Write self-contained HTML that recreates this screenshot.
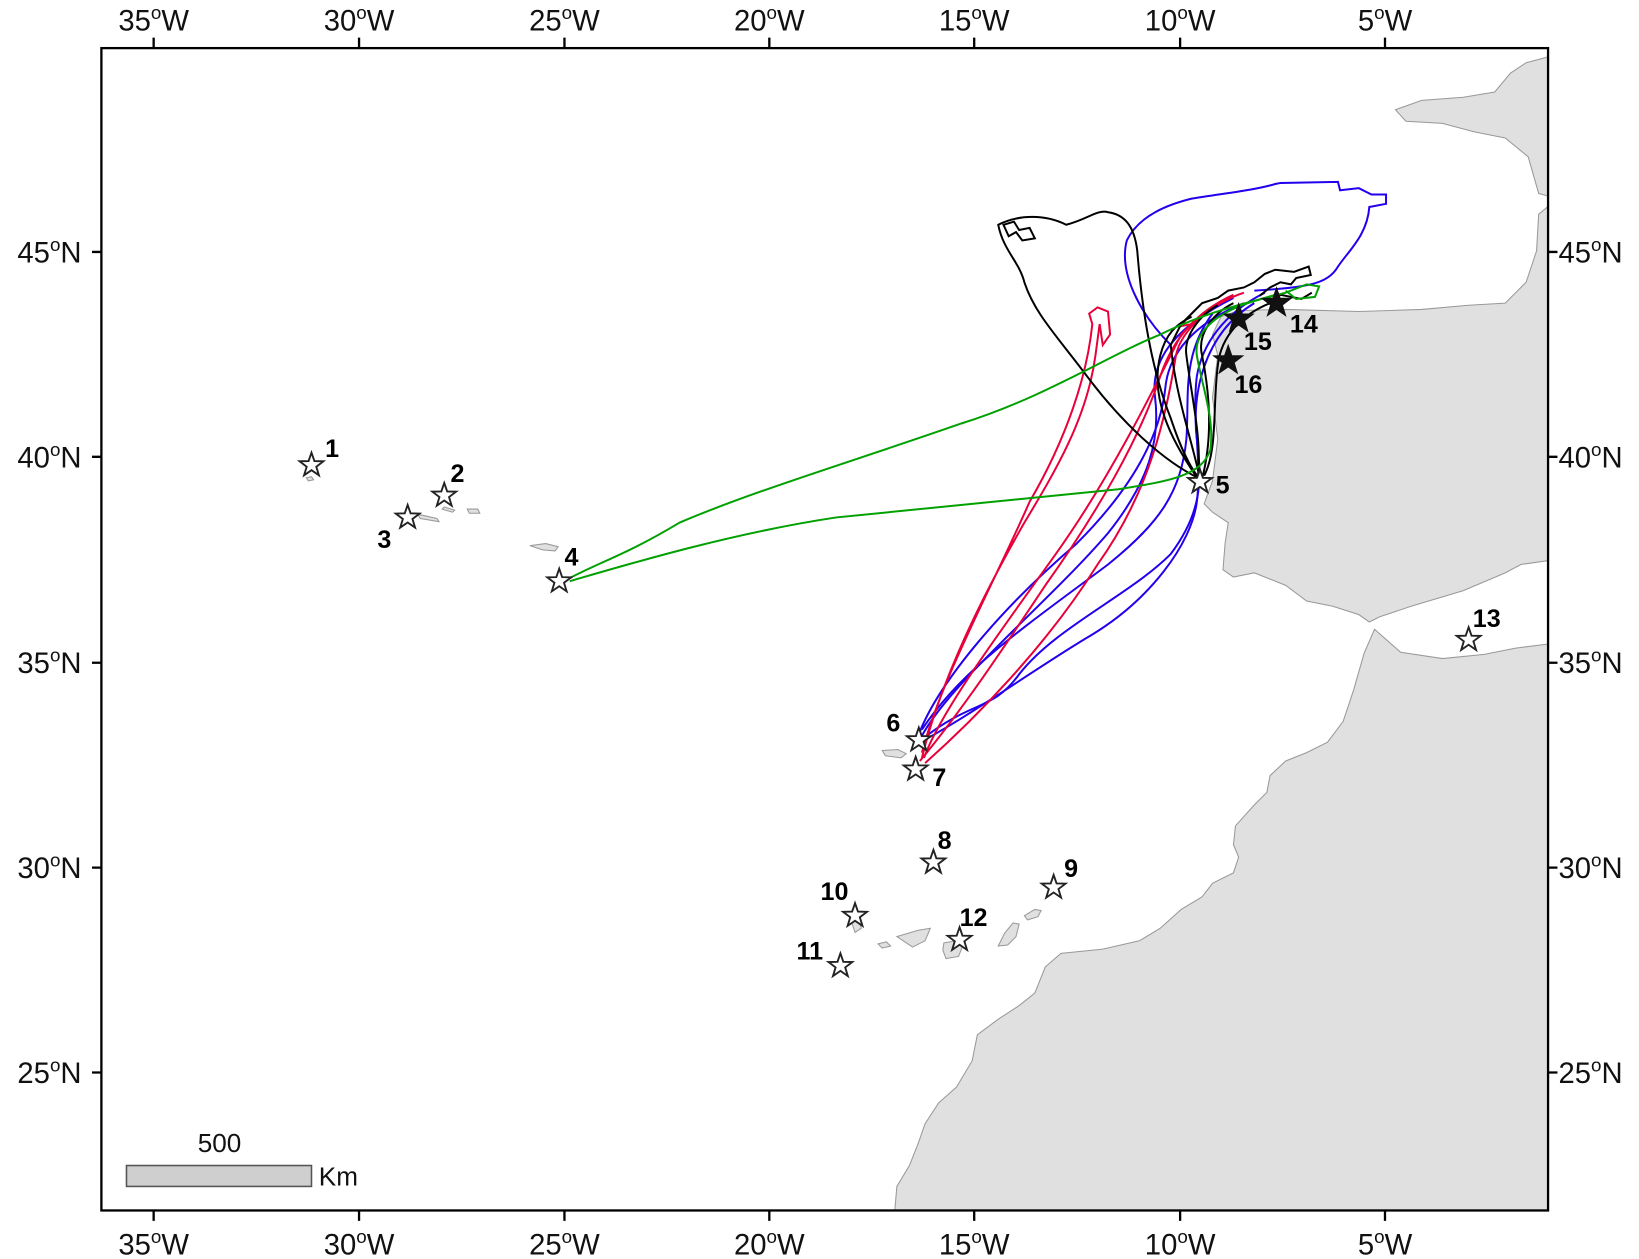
<!DOCTYPE html>
<html><head><meta charset="utf-8"><style>
html,body{margin:0;padding:0;background:#fff}
svg{display:block}
text{font-family:"Liberation Sans",Arial,sans-serif}
</style></head><body>
<svg width="1639" height="1259" viewBox="0 0 1568 1204.4" xmlns="http://www.w3.org/2000/svg">
<defs>
<clipPath id="c"><rect x="97" y="46" width="1384" height="1112"/></clipPath>
<path id="st" d="M0,-12 L2.8,-3.9 L11.4,-3.7 L4.6,1.5 L7.1,9.7 L0,4.8 L-7.1,9.7 L-4.6,1.5 L-11.4,-3.7 L-2.8,-3.9 Z"/>
</defs>
<g clip-path="url(#c)" fill="#e0e0e0" stroke="#999" stroke-width="1">
<path d="M855,1170 L858,1135 L870,1115 L878,1095 L885,1075 L898,1055 L915,1040 L930,1015 L935,990 L955,975 L975,962 L990,950 L1000,925 L1015,912 L1055,908 L1090,900 L1110,888 L1130,870 L1150,858 L1160,845 L1180,835 L1185,820 L1180,808 L1182,790 L1200,770 L1212,758 L1215,742 L1230,728 L1250,720 L1270,710 L1285,690 L1295,660 L1305,625 L1315,602 L1340,624 L1380,630 L1420,626 L1450,620 L1490,615 L1490,1170 Z"/>
<path d="M1168,303 L1185,297 L1230,296 L1300,298 L1360,296 L1405,292 L1440,290 L1460,270 L1470,240 L1472,205 L1490,190 L1490,535 L1455,540 L1440,548 L1400,565 L1350,580 L1320,590 L1310,595 L1300,588 L1275,580 L1250,575 L1230,560 L1200,548 L1180,552 L1170,545 L1172,520 L1175,500 L1160,490 L1152,482 L1160,460 L1165,420 L1160,380 L1165,340 L1160,320 Z"/>
<path d="M1335,105 L1360,96 L1400,93 L1430,88 L1445,70 L1460,60 L1490,52 L1490,190 L1472,185 L1462,150 L1440,132 L1410,126 L1380,118 L1345,116 Z"/>
<path d="M293,457 l5,-1 l2,3 l-5,1z"/>
<path d="M400,492 l18,4 l2,3 l-18,-3z"/>
<path d="M425,485 l10,3 l-2,2 l-10,-3z"/>
<path d="M447,487 l10,0 l2,4 l-10,0z"/>
<path d="M507,522 l15,-2 l12,3 l-3,4 l-12,-1z"/>
<path d="M844,718 l15,-1 l8,4 l-5,4 l-15,-2z"/>
<path d="M840,903 l8,-2 l4,4 l-8,2z"/>
<path d="M858,896 l20,-6 l12,-2 l-5,12 l-12,6z"/>
<path d="M903,902 l12,-2 l6,5 l-4,10 l-12,2 l-3,-8z"/>
<path d="M955,905 l6,-12 l8,-10 l6,1 l-3,12 l-8,8z"/>
<path d="M980,876 l10,-6 l6,1 l-3,6 l-10,3z"/>
<path d="M814,880 l8,0 l2,8 l-6,4z"/>
</g>
<g clip-path="url(#c)" fill="none" stroke-width="1.9">
<g stroke="#2200ee">
<path d="M1120,330 C1090,300 1070,260 1078,230 C1090,205 1120,195 1140,190 C1170,185 1200,182 1220,176 L1225,175 L1280,174 L1282,182 L1300,180 L1312,186 L1326,186 L1326,195 L1310,198 C1308,225 1290,240 1280,255 C1270,272 1250,275 1200,278"/>
<path d="M880,700 C900,650 960,580 1030,520 C1080,470 1110,420 1115,370 C1118,340 1140,310 1190,290"/>
<path d="M882,698 C920,640 980,600 1060,540 C1110,500 1130,470 1135,420 C1138,380 1130,340 1160,300"/>
<path d="M885,705 C930,670 950,680 975,645 C1010,600 1080,570 1120,530 C1150,490 1150,460 1145,420 C1140,380 1150,320 1200,290"/>
<path d="M880,710 C920,690 990,640 1040,610 C1100,575 1140,520 1145,480 C1150,440 1140,400 1145,360 C1150,330 1170,300 1210,280"/>
<path d="M878,712 C900,660 1000,580 1060,510 C1100,460 1110,420 1105,380 C1100,340 1130,310 1180,285"/>
</g>
<g stroke="#e8003a">
<path d="M882,720 C900,650 950,560 985,480 C1020,420 1040,360 1045,310 L1042,300 L1050,294 L1060,298 L1062,320 L1055,330 L1052,310 L1048,340 C1040,400 1010,450 980,500 C940,570 900,650 882,725"/>
<path d="M880,728 C920,680 960,620 1000,560 C1050,490 1090,420 1110,360 C1120,330 1140,300 1180,282"/>
<path d="M885,730 C930,690 1000,620 1050,540 C1100,470 1115,400 1125,340 C1130,315 1160,290 1190,280"/>
<path d="M884,725 C900,680 960,600 1010,530 C1060,460 1100,380 1130,320 L1140,310 L1130,312 L1135,305"/>
</g>
<g stroke="#000">
<path d="M1148,458 C1110,440 1070,400 1040,360 C1010,320 990,300 980,270 C975,250 960,240 955,215 C975,205 1000,205 1020,215 C1040,210 1050,200 1060,203 C1075,205 1085,215 1088,240 C1092,290 1100,350 1120,400 C1130,430 1140,450 1148,458"/>
<path d="M960,215 L970,212 L975,220 L985,218 L990,228 L978,230 L972,222 L965,226 Z"/>
<path d="M1148,458 C1140,420 1125,380 1120,330 L1130,310 L1140,300 L1150,290 L1165,285 L1175,278 L1190,275 L1200,270 L1210,262 L1220,258 L1238,260 L1252,255 L1254,263 L1240,266 L1235,272 L1225,270 L1215,275 L1205,283"/>
<path d="M1146,458 C1150,420 1140,380 1135,340 C1132,320 1150,300 1165,292"/>
<path d="M1150,458 C1160,420 1158,380 1150,340 C1145,320 1160,300 1180,290"/>
<path d="M1144,455 C1120,420 1100,380 1110,340 C1115,320 1125,310 1140,303"/>
<path d="M1152,455 C1165,430 1160,390 1165,350 C1168,320 1190,300 1215,290 L1225,282 L1245,286 L1255,280"/>
</g>
<g stroke="#00a000">
<path d="M545,553 C580,535 600,530 650,500 C720,470 820,440 920,405 C1000,380 1060,340 1110,320 C1150,300 1190,290 1230,280 L1250,272 L1262,274 L1258,284 L1240,286 L1230,278"/>
<path d="M545,556 C600,540 700,510 800,495 C900,485 1000,475 1070,468 C1120,460 1150,455 1158,430 C1162,400 1150,370 1145,340 C1142,320 1160,300 1200,288 L1220,282"/>
</g>
</g>
<rect x="97" y="46" width="1384" height="1112" fill="none" stroke="#000" stroke-width="2.2"/>
<g stroke="#000" stroke-width="2.2">
<path d="M147,46v-10M343.5,46v-10M540,46v-10M736,46v-10M932,46v-10M1129,46v-10M1325,46v-10"/>
<path d="M147,1158v10M343.5,1158v10M540,1158v10M736,1158v10M932,1158v10M1129,1158v10M1325,1158v10"/>
<path d="M97,241h-9M97,437h-9M97,634h-9M97,830h-9M97,1026h-9"/>
<path d="M1481,241h9M1481,437h9M1481,634h9M1481,830h9M1481,1026h9"/>
</g>
<g font-size="28" fill="#111">
<g text-anchor="middle">
<text x="147" y="29">35<tspan font-size="18" dy="-11">o</tspan><tspan dy="11">W</tspan></text>
<text x="343.5" y="29">30<tspan font-size="18" dy="-11">o</tspan><tspan dy="11">W</tspan></text>
<text x="540" y="29">25<tspan font-size="18" dy="-11">o</tspan><tspan dy="11">W</tspan></text>
<text x="736" y="29">20<tspan font-size="18" dy="-11">o</tspan><tspan dy="11">W</tspan></text>
<text x="932" y="29">15<tspan font-size="18" dy="-11">o</tspan><tspan dy="11">W</tspan></text>
<text x="1129" y="29">10<tspan font-size="18" dy="-11">o</tspan><tspan dy="11">W</tspan></text>
<text x="1325" y="29">5<tspan font-size="18" dy="-11">o</tspan><tspan dy="11">W</tspan></text>
<text x="147" y="1200">35<tspan font-size="18" dy="-11">o</tspan><tspan dy="11">W</tspan></text>
<text x="343.5" y="1200">30<tspan font-size="18" dy="-11">o</tspan><tspan dy="11">W</tspan></text>
<text x="540" y="1200">25<tspan font-size="18" dy="-11">o</tspan><tspan dy="11">W</tspan></text>
<text x="736" y="1200">20<tspan font-size="18" dy="-11">o</tspan><tspan dy="11">W</tspan></text>
<text x="932" y="1200">15<tspan font-size="18" dy="-11">o</tspan><tspan dy="11">W</tspan></text>
<text x="1129" y="1200">10<tspan font-size="18" dy="-11">o</tspan><tspan dy="11">W</tspan></text>
<text x="1325" y="1200">5<tspan font-size="18" dy="-11">o</tspan><tspan dy="11">W</tspan></text>
</g>
<g text-anchor="end">
<text x="78" y="251">45<tspan font-size="18" dy="-11">o</tspan><tspan dy="11">N</tspan></text>
<text x="78" y="447">40<tspan font-size="18" dy="-11">o</tspan><tspan dy="11">N</tspan></text>
<text x="78" y="644">35<tspan font-size="18" dy="-11">o</tspan><tspan dy="11">N</tspan></text>
<text x="78" y="840">30<tspan font-size="18" dy="-11">o</tspan><tspan dy="11">N</tspan></text>
<text x="78" y="1036">25<tspan font-size="18" dy="-11">o</tspan><tspan dy="11">N</tspan></text>
</g>
<text x="1491" y="251">45<tspan font-size="18" dy="-11">o</tspan><tspan dy="11">N</tspan></text>
<text x="1491" y="447">40<tspan font-size="18" dy="-11">o</tspan><tspan dy="11">N</tspan></text>
<text x="1491" y="644">35<tspan font-size="18" dy="-11">o</tspan><tspan dy="11">N</tspan></text>
<text x="1491" y="840">30<tspan font-size="18" dy="-11">o</tspan><tspan dy="11">N</tspan></text>
<text x="1491" y="1036">25<tspan font-size="18" dy="-11">o</tspan><tspan dy="11">N</tspan></text>
</g>
<g fill="#fff" stroke="#222" stroke-width="1.8">
<use href="#st" x="298" y="445"/><use href="#st" x="425" y="474"/><use href="#st" x="390" y="495"/>
<use href="#st" x="535" y="556"/><use href="#st" x="1148" y="461"/><use href="#st" x="879" y="708"/>
<use href="#st" x="876" y="736"/><use href="#st" x="893" y="825"/><use href="#st" x="1008" y="849"/>
<use href="#st" x="818" y="876"/><use href="#st" x="804" y="924"/><use href="#st" x="918" y="899"/>
<use href="#st" x="1405" y="612"/>
</g>
<g fill="#111" stroke="#111" stroke-width="1">
<use href="#st" x="1221" y="290" transform="translate(-244 -58) scale(1.2)"/>
<use href="#st" x="1185" y="305" transform="translate(-237 -61) scale(1.2)"/>
<use href="#st" x="1175" y="345" transform="translate(-235 -69) scale(1.2)"/>
</g>
<g font-size="24" font-weight="bold" fill="#000">
<text x="311" y="437">1</text><text x="431" y="461">2</text><text x="361" y="524">3</text>
<text x="540" y="541">4</text><text x="1163" y="472">5</text><text x="848" y="700">6</text>
<text x="892" y="752">7</text><text x="897" y="812">8</text><text x="1018" y="839">9</text>
<text x="785" y="861">10</text><text x="762" y="918">11</text><text x="918" y="886">12</text>
<text x="1409" y="600">13</text><text x="1234" y="318">14</text><text x="1190" y="335">15</text>
<text x="1181" y="376">16</text>
</g>
<rect x="121" y="1115" width="177" height="20" fill="#cfcfcf" stroke="#555" stroke-width="1.5"/>
<text x="210" y="1102" font-size="25" text-anchor="middle" fill="#111">500</text>
<text x="305" y="1134" font-size="25" fill="#111">Km</text>
</svg>
</body></html>
